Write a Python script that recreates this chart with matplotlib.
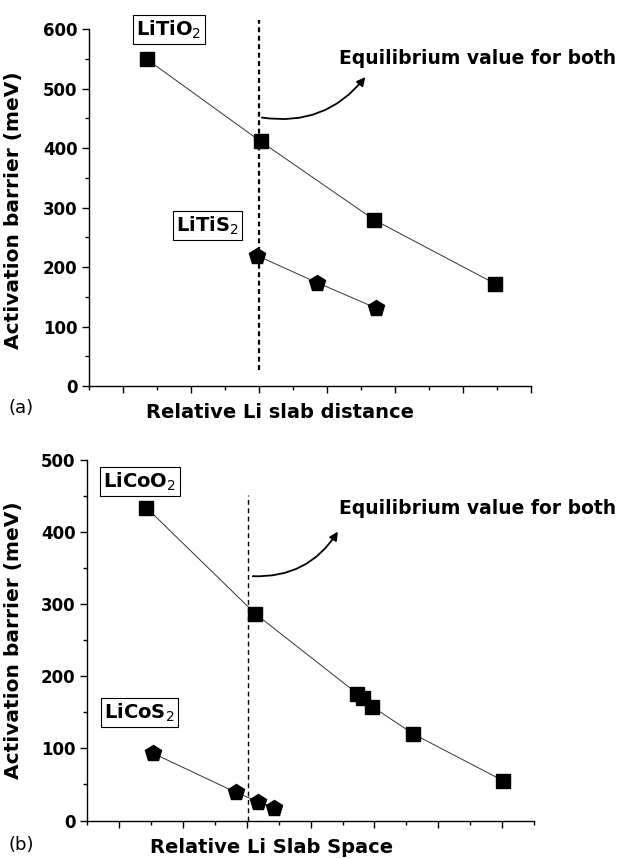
import matplotlib
matplotlib.use("Agg")
import matplotlib.pyplot as plt
from matplotlib.ticker import MultipleLocator
from matplotlib.patches import FancyArrowPatch

# panel (a): LiTiO2 / LiTiS2
tio2_x = [1.7, 5.05, 8.4, 11.95]
tio2_y = [549, 411, 279, 172]
tis2_x = [4.95, 6.7, 8.45]
tis2_y = [219, 174, 131]

# panel (b): LiCoO2 / LiCoS2
coo2_x = [1.85, 5.26, 8.46, 8.64, 8.93, 10.22, 13.04]
coo2_y = [434, 287, 176, 170, 158, 120, 55]
cos2_x = [2.07, 4.66, 5.36, 5.85]
cos2_y = [93, 39, 26, 18]

eq_a = 5.0
eq_b = 5.05

plt.rcParams['font.family'] = ['DejaVu Sans']
plt.rcParams['mathtext.fontset'] = 'custom'
plt.rcParams['mathtext.rm'] = 'DejaVu Sans:normal'
plt.rcParams['mathtext.default'] = 'rm'

fig = plt.figure(figsize=(6.23, 8.59), dpi=100)
ax1 = fig.add_axes([0.1433, 0.5506, 0.7085, 0.4156])
ax2 = fig.add_axes([0.1401, 0.0448, 0.7170, 0.4197])


def style_axes(ax, xmax, ymax):
    ax.set_xlim(0, xmax)
    ax.set_ylim(0, ymax)
    for s in ['top', 'right']:
        ax.spines[s].set_visible(False)
    for s in ['left', 'bottom']:
        ax.spines[s].set_linewidth(1.0)
    ax.set_xticks(list(range(1, xmax + 1, 2)))
    ax.xaxis.set_minor_locator(MultipleLocator(1))
    ax.yaxis.set_major_locator(MultipleLocator(100))
    ax.yaxis.set_minor_locator(MultipleLocator(50))
    ax.tick_params(which='major', direction='out', length=5, width=1, labelsize=12)
    ax.tick_params(which='minor', direction='out', length=3, width=1)
    ax.tick_params(axis='x', labelbottom=False)
    for lab in ax.get_yticklabels():
        lab.set_fontweight('bold')


style_axes(ax1, 13, 600)
style_axes(ax2, 14, 500)

box = dict(boxstyle='square,pad=0.18', fc='white', ec='black', lw=0.8)
arrow_kw = dict(connectionstyle='arc3,rad=0.3',
                arrowstyle='-|>,head_length=5,head_width=2.5',
                color='black', lw=1.3, clip_on=False)

# ---- panel (a)
ax1.plot(tio2_x, tio2_y, color='#333333', lw=0.7, marker='s', ms=9.5,
         mfc='black', mec='black', clip_on=False)
ax1.plot(tis2_x, tis2_y, color='#333333', lw=0.7, marker='p', ms=12,
         mfc='black', mec='black', clip_on=False)
ax1.plot([eq_a, eq_a], [27, 615], color='black', lw=1.6, ls=(0, (2.2, 1.6)),
         clip_on=False)
ax1.text(2.34, 599, 'LiTiO$_2$', fontsize=14, fontweight='bold',
         ha='center', va='center', bbox=box)
ax1.text(3.48, 270, 'LiTiS$_2$', fontsize=14, fontweight='bold',
         ha='center', va='center', bbox=box)
ax1.text(7.35, 550, 'Equilibrium value for both', fontsize=13.5,
         fontweight='bold', ha='left', va='center')
ax1.add_patch(FancyArrowPatch((5.0, 452), (8.18, 523), **arrow_kw))
ax1.set_ylabel('Activation barrier (meV)', fontsize=14.5, fontweight='bold')
ax1.yaxis.set_label_coords(-0.150, 0.493)
ax1.text(0.432, -0.073, 'Relative Li slab distance', transform=ax1.transAxes,
         fontsize=14, fontweight='bold', ha='center', va='center')
fig.text(0.034, 1 - 408 / 859, '(a)', fontsize=13, ha='center', va='center')

# ---- panel (b)
ax2.plot(coo2_x, coo2_y, color='#333333', lw=0.7, marker='s', ms=9.5,
         mfc='black', mec='black', clip_on=False)
ax2.plot(cos2_x, cos2_y, color='#333333', lw=0.7, marker='p', ms=12,
         mfc='black', mec='black', clip_on=False)
ax2.plot([eq_b, eq_b], [0, 451], color='black', lw=1.0, ls=(0, (3.5, 2.5)),
         clip_on=False)
ax2.text(1.64, 470, 'LiCoO$_2$', fontsize=14, fontweight='bold',
         ha='center', va='center', bbox=box)
ax2.text(1.64, 150, 'LiCoS$_2$', fontsize=14, fontweight='bold',
         ha='center', va='center', bbox=box)
ax2.text(7.9, 433, 'Equilibrium value for both', fontsize=13.5,
         fontweight='bold', ha='left', va='center')
ax2.add_patch(FancyArrowPatch((5.1, 339), (7.9, 404), **arrow_kw))
ax2.set_ylabel('Activation barrier (meV)', fontsize=14.5, fontweight='bold')
ax2.yaxis.set_label_coords(-0.144, 0.5)
ax2.text(0.413, -0.0735, 'Relative Li Slab Space', transform=ax2.transAxes,
         fontsize=14, fontweight='bold', ha='center', va='center')
fig.text(0.034, 1 - 845 / 859, '(b)', fontsize=13, ha='center', va='center')

fig.savefig('out.png', dpi=100)
